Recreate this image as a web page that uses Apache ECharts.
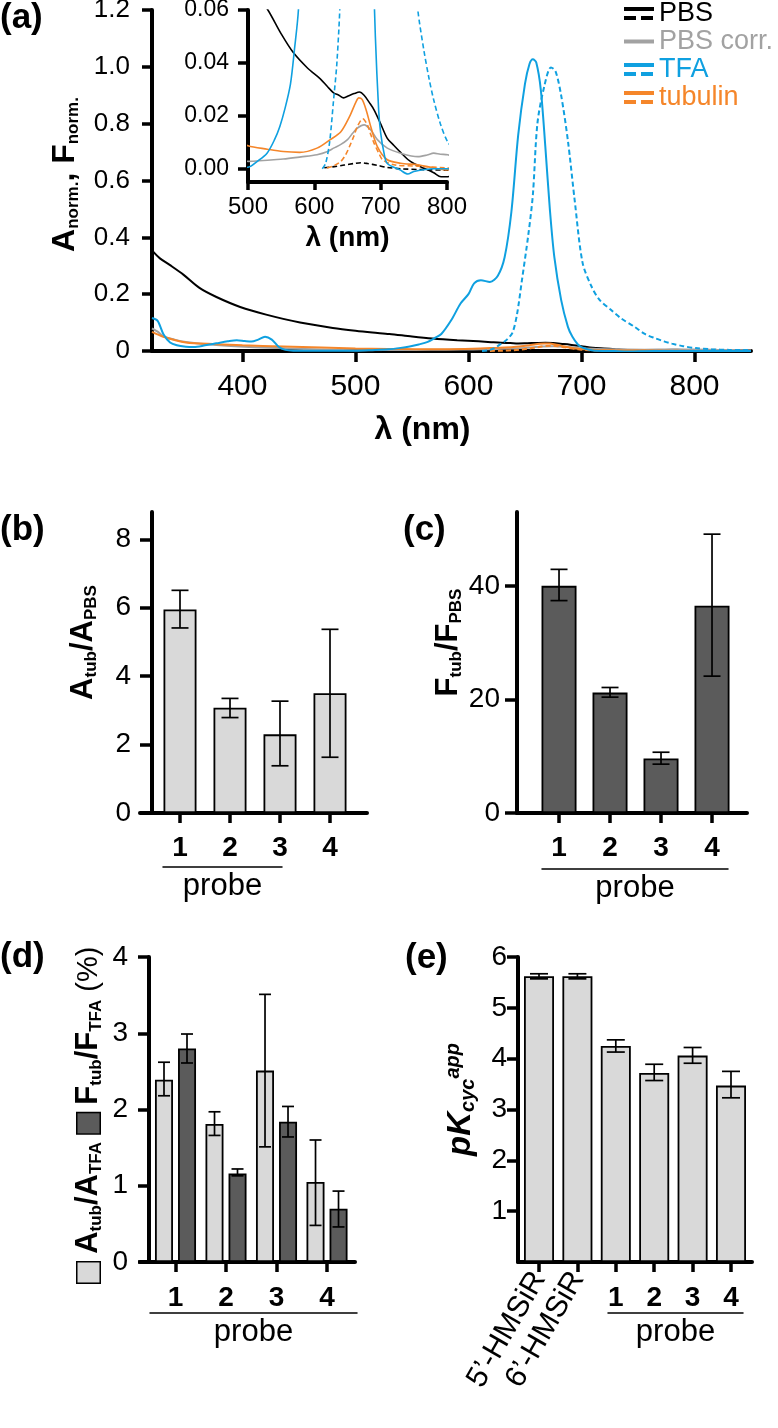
<!DOCTYPE html>
<html><head><meta charset="utf-8">
<script src="https://cdn.jsdelivr.net/npm/echarts@6/dist/echarts.min.js"></script>
<style>html,body{margin:0;padding:0;background:#fff}#c{width:778px;height:1428px}</style>
</head><body><div id="c"></div><script>
const FONT = '"Liberation Sans", Arial, Helvetica, sans-serif';
const BLACK = '#000000', GRAY = '#a2a2a2', CYAN = '#0fa0e0', ORANGE = '#f5862a';
const LIGHT = '#d9d9d9', DARK = '#5b5b5b';

// ---------- (a) spectra: [wavelength nm, normalized value] ----------
const pbsAbs = [[320,0.354],[327,0.326],[336,0.302],[348,0.268],[362,0.222],[377,0.19],[398,0.155],[421,0.128],[451,0.1],[480,0.081],[500,0.071],[515,0.065],[530,0.06],[550,0.051],[568,0.044],[590,0.038],[609,0.034],[620,0.031],[629,0.0287],[637,0.0278],[644,0.0268],[652,0.0276],[660,0.0284],[668,0.029],[675,0.0278],[683,0.025],[690,0.0223],[700,0.017],[710,0.0115],[720,0.0088],[730,0.0062],[741,0.0035],[750,0.002],[760,0.0008],[771,-0.0004],[780,-0.0015],[791,-0.003],[800,-0.003],[820,-0.002],[850,-0.002]];
const pbsFluo = [[615,0.0004],[630,0.0008],[645,0.0014],[660,0.002],[670,0.0023],[680,0.002],[695,0.0013],[710,0.0005],[730,0.0],[760,-0.0003],[800,-0.0005],[850,-0.0005]];
const pbsCorrAbs = [[320,0.08],[325,0.068],[330,0.052],[340,0.04],[350,0.032],[377,0.021],[406,0.014],[440,0.009],[470,0.005],[500,0.0028],[553,0.0037],[580,0.0045],[604,0.0053],[620,0.0065],[629,0.0078],[640,0.0092],[650,0.011],[658,0.0135],[665,0.0154],[675,0.0166],[685,0.0147],[695,0.011],[710,0.0078],[730,0.0059],[756,0.0046],[770,0.0052],[780,0.0059],[790,0.0055],[801,0.0053],[820,0.004],[850,0.003]];
const tfaAbs = [[320,0.116],[325,0.106],[330,0.06],[336,0.03],[342,0.02],[350,0.015],[357,0.014],[367,0.02],[377,0.027],[387,0.034],[395,0.038],[402,0.035],[408,0.033],[414,0.04],[420,0.05],[426,0.04],[432,0.015],[438,0.004],[445,0.001],[470,0.0005],[500,0.0006],[515,0.003],[529,0.006],[540,0.011],[548,0.016],[556,0.023],[564,0.032],[570,0.045],[576,0.06],[585,0.11],[593,0.167],[600,0.2],[605,0.238],[611,0.249],[619,0.243],[626,0.265],[632,0.33],[638,0.49],[644,0.76],[650,0.94],[654,1.01],[657,1.027],[660,1.015],[664,0.92],[668,0.72],[672,0.5],[676,0.33],[682,0.18],[688,0.085],[692,0.05],[697,0.022],[700,0.0136],[705,0.006],[710,0.002],[729,-0.0004],[741,-0.002],[750,-0.001],[780,0.0],[850,0.0]];
const tfaFluo = [[612,0.0],[617,0.002],[623,0.01],[629,0.026],[634,0.04],[639,0.065],[643,0.13],[647,0.24],[653,0.41],[657,0.55],[661,0.8],[667,0.93],[673,0.998],[677,0.985],[682,0.9],[688,0.74],[694,0.53],[701,0.31],[709,0.226],[716,0.18],[726,0.145],[735,0.115],[747,0.085],[756,0.06],[765,0.045],[773,0.034],[780,0.026],[790,0.017],[801,0.0102],[815,0.006],[830,0.004],[850,0.003]];
const tubAbs = [[320,0.067],[330,0.05],[350,0.03],[377,0.024],[400,0.02],[436,0.016],[470,0.012],[500,0.0087],[529,0.0074],[553,0.0065],[578,0.0062],[604,0.0078],[624,0.011],[640,0.014],[653,0.0197],[663,0.0254],[667,0.0268],[672,0.0262],[678,0.0223],[685,0.016],[695,0.0084],[710,0.0034],[730,0.0021],[756,0.0015],[780,0.0003],[798,-0.0004],[820,0.0],[850,0.0]];
const tubFluo = [[619,0.0003],[630,0.0012],[640,0.0028],[647,0.0052],[653,0.0084],[659,0.012],[665,0.016],[673,0.0189],[680,0.0166],[685,0.013],[690,0.0097],[697,0.006],[703,0.0034],[720,0.0015],[756,0.001],[801,0.0003],[850,0.0]];
const mainXTicks = [400,500,600,700,800];
const insetYTicks = [0,0.02,0.04,0.06];

// ---------- (b)-(e) bars ----------
const probes = [1,2,3,4];
const bVal = [5.95,3.08,2.3,3.5], bLow = [5.41,2.79,1.38,1.63], bHigh = [6.51,3.35,3.27,5.37];
const bTicks = [0,2,4,6,8];
const cVal = [40.0,21.2,9.6,36.5], cLow = [37.4,20.4,8.6,24.1], cHigh = [42.9,22.1,10.7,49.1];
const cTicks = [0,20,40];
const dLightVal = [2.39,1.81,2.51,1.05], dLightLow = [2.18,1.66,1.51,0.48], dLightHigh = [2.62,1.97,3.51,1.6];
const dDarkVal = [2.8,1.16,1.84,0.7], dDarkLow = [2.61,1.13,1.64,0.46], dDarkHigh = [2.99,1.22,2.04,0.93];
const eCats = ['5’-HMSiR','6’-HMSiR','1','2','3','4'];
const ePos = [1,2,3,4,5,6];
const eVal = [5.62,5.62,4.25,3.72,4.06,3.47], eLow = [5.57,5.57,4.13,3.57,3.91,3.23], eHigh = [5.67,5.67,4.37,3.89,4.22,3.75];
const eTicks = [1,2,3,4,5,6];

// ---------- helpers ----------
const AL = (w) => ({show:true, onZero:false, lineStyle:{color:'#000', width:w}});
const AT = (len, vals) => { const o = {show:true, length:len, lineStyle:{color:'#000', width:3.5}}; if (vals) o.customValues = vals; return o; };
const LBL = (size, margin, vals, fmt, extra) => { const o = Object.assign({show:true, hideOverlap:false, color:'#000', fontFamily:FONT, fontSize:size, margin:margin}, extra || {}); if (vals) o.customValues = vals; if (fmt) o.formatter = fmt; return o; };
const subRich = (big, small) => ({
  b:{fontSize:big, fontWeight:'bold', fontFamily:FONT, color:'#000', lineHeight:big+2},
  s:{fontSize:small, fontWeight:'bold', fontFamily:FONT, color:'#000', lineHeight:10, verticalAlign:'bottom'},
  r:{fontSize:big-2, fontWeight:'normal', fontFamily:FONT, color:'#000', lineHeight:big+2},
  sp:{fontSize:big, fontFamily:FONT, lineHeight:big+2},
  sqL:{width:20, height:22, backgroundColor:LIGHT, borderColor:'#000', borderWidth:1.5, verticalAlign:'middle'},
  sqD:{width:20, height:22, backgroundColor:DARK, borderColor:'#000', borderWidth:1.5, verticalAlign:'middle'},
  bi:{fontSize:big, fontWeight:'bold', fontStyle:'italic', fontFamily:FONT, color:'#000', lineHeight:big+2},
  si:{fontSize:small, fontWeight:'bold', fontStyle:'italic', fontFamily:FONT, color:'#000', lineHeight:10, verticalAlign:'bottom'},
  su:{fontSize:small, fontWeight:'bold', fontStyle:'italic', fontFamily:FONT, color:'#000', lineHeight:2, verticalAlign:'top'}
});

function spec(name, data, color, dashed, ax, width) {
  return {type:'line', name:name, data:data, xAxisIndex:ax, yAxisIndex:ax, showSymbol:false, symbol:'none',
    clip:true, smooth:0.3, silent:true, color:color, itemStyle:{color:color},
    lineStyle:{color:color, width:width, type: dashed ? [5,3] : 'solid'}};
}
function errRender(capW, dx) {
  return function (params, api) {
    const x = api.value(0);
    const lo = api.coord([x, api.value(1)]);
    const hi = api.coord([x, api.value(2)]);
    const cx = lo[0] + dx;
    const st = {stroke:'#000', lineWidth:1.7};
    return {type:'group', children:[
      {type:'line', shape:{x1:cx, y1:lo[1], x2:cx, y2:hi[1]}, style:st},
      {type:'line', shape:{x1:cx-capW/2, y1:lo[1], x2:cx+capW/2, y2:lo[1]}, style:st},
      {type:'line', shape:{x1:cx-capW/2, y1:hi[1], x2:cx+capW/2, y2:hi[1]}, style:st}
    ]};
  };
}
function errSeries(ax, xs, lo, hi, capW, dx) {
  return {type:'custom', xAxisIndex:ax, yAxisIndex:ax, clip:false, silent:true, z:10,
    data: xs.map((x,i)=>[x, lo[i], hi[i]]), encode:{x:0, y:[1,2]}, renderItem: errRender(capW, dx)};
}
function barSeries(ax, xs, vals, width, color, extra) {
  return Object.assign({type:'bar', xAxisIndex:ax, yAxisIndex:ax, silent:true, barWidth:width,
    data: xs.map((x,i)=>[x, vals[i]]),
    itemStyle:{color:color, borderColor:'#000', borderWidth:1.8}}, extra || {});
}
const grid = (l, t, w, h) => ({left:l, top:t, width:w, height:h, outerBoundsMode:'none', containLabel:false});
const helperX = (gi) => ({gridIndex:gi, type:'value', min:0, max:1, position:'bottom',
  axisLine:{show:true, onZero:false, lineStyle:{color:'#000', width:1.5}}, axisTick:{show:false}, axisLabel:{show:false}, splitLine:{show:false},
  name:'probe', nameLocation:'middle', nameGap:4, nameTextStyle:{fontSize:31, color:'#000', fontFamily:FONT}});
const helperY = (gi) => ({gridIndex:gi, type:'value', show:false, min:0, max:1});
const titleOf = (t, l, top) => ({text:t, left:l, top:top, padding:0, textStyle:{fontSize:35, fontWeight:'bold', color:'#000', fontFamily:FONT}});
const eAxisBase = {gridIndex:5, type:'value', min:0.453, max:6.547, position:'bottom', splitLine:{show:false}};
const eRot = {rotate:60, lineHeight:22, showMinLabel:true, showMaxLabel:true};

const ICON2 = 'path://M0,0L30,0L30,4L0,4Z M0,9L12,9L12,13L0,13Z M17,9L29,9L29,13L17,13Z';
const ICON1 = 'path://M0,0L30,0L30,4L0,4Z';

const option = {
  animation:false,
  backgroundColor:'#fff',
  textStyle:{fontFamily:FONT},
  title:[titleOf('(a)',0,1), titleOf('(b)',0,513), titleOf('(c)',403,513), titleOf('(d)',0,940), titleOf('(e)',405,941)],
  legend:{orient:'vertical', left:624, top:0, padding:0, itemWidth:30, itemHeight:14, itemGap:1, selectedMode:false,
    itemStyle:{borderWidth:0}, textStyle:{fontSize:27, fontFamily:FONT, lineHeight:26},
    data:[
      {name:'PBS', icon:ICON2, textStyle:{color:BLACK}},
      {name:'PBS corr.', icon:ICON1, textStyle:{color:GRAY}},
      {name:'TFA', icon:ICON2, textStyle:{color:CYAN}},
      {name:'tubulin', icon:ICON2, textStyle:{color:ORANGE}}
    ]},
  grid:[
    grid(152,10,599,341),   // 0 main (a)
    grid(248,10,199,172),   // 1 inset
    grid(140,512,227,301),  // 2 (b)
    grid(517,512,230,301),  // 3 (c)
    grid(140,957,215,305),  // 4 (d)
    grid(518,957,234,305),  // 5 (e)
    grid(163,866,119,1),    // 6 probe line b
    grid(542,868,186,1),    // 7 probe line c
    grid(150,1312,207,1),   // 8 probe line d
    grid(608,1312,135,1)    // 9 probe line e
  ],
  xAxis:[
    {gridIndex:0, type:'value', min:320, max:850, splitLine:{show:false}, axisLine:AL(4), axisTick:AT(11, mainXTicks),
      axisLabel:LBL(30,21,mainXTicks), name:'λ (nm)', nameLocation:'middle', nameGap:63,
      nameTextStyle:{fontSize:32, fontWeight:'bold', color:'#000', fontFamily:FONT, padding:[0,58,0,0]}},
    {gridIndex:1, type:'value', min:500, max:800, interval:100, splitLine:{show:false}, axisLine:AL(4), axisTick:AT(8),
      axisLabel:LBL(24,13), name:'λ (nm)', nameLocation:'middle', nameGap:42,
      nameTextStyle:{fontSize:28, fontWeight:'bold', color:'#000', fontFamily:FONT}},
    {gridIndex:2, type:'value', min:0.2, max:4.74, splitLine:{show:false}, axisLine:AL(4), axisTick:AT(10, probes),
      axisLabel:LBL(28,21,probes,null,{fontWeight:'bold'})},
    {gridIndex:3, type:'value', min:0.176, max:4.686, splitLine:{show:false}, axisLine:AL(4), axisTick:AT(10, probes),
      axisLabel:LBL(28,21,probes,null,{fontWeight:'bold'})},
    {gridIndex:4, type:'value', min:0.297, max:4.554, splitLine:{show:false}, axisLine:AL(4), axisTick:AT(10, probes),
      axisLabel:LBL(28,22,probes,null,{fontWeight:'bold'})},
    // (e) ticks + first rotated label
    Object.assign({}, eAxisBase, {axisLine:AL(4), axisTick:AT(10, eTicks),
      axisLabel:LBL(30,12,[1],(v)=>eCats[Math.round(v)-1],eRot)}),
    // (e) second rotated label
    Object.assign({}, eAxisBase, {axisLine:{show:false}, axisTick:{show:false},
      axisLabel:LBL(30,12,[2],(v)=>eCats[Math.round(v)-1],eRot)}),
    // (e) probe numbers
    Object.assign({}, eAxisBase, {axisLine:{show:false}, axisTick:{show:false},
      axisLabel:LBL(28,22,[3,4,5,6],(v)=>eCats[Math.round(v)-1],{fontWeight:'bold', showMinLabel:true, showMaxLabel:true})}),
    helperX(6), helperX(7), helperX(8), helperX(9)
  ],
  yAxis:[
    {gridIndex:0, type:'value', min:0, max:1.2, interval:0.2, splitLine:{show:false}, axisLine:AL(4), axisTick:AT(10),
      axisLabel:LBL(26,22,null,(v)=> Math.abs(v)<1e-9 ? '0' : v.toFixed(1)),
      name:'{b|A}{s|norm.}{b|, F}{s|norm.}', nameLocation:'middle', nameGap:70,
      nameTextStyle:{padding:[0,0,0,12], rich:subRich(32,17)}},
    {gridIndex:1, type:'value', min:-0.005, max:0.06, splitLine:{show:false}, axisLine:AL(4), axisTick:AT(10, insetYTicks),
      axisLabel:LBL(23,19,insetYTicks,(v)=>v.toFixed(2))},
    {gridIndex:2, type:'value', min:0, max:8.8, offset:-12, splitLine:{show:false}, axisLine:AL(4), axisTick:AT(12, bTicks),
      axisLabel:LBL(28,21,bTicks), name:'{b|A}{s|tub}{b|/A}{s|PBS}', nameLocation:'middle', nameGap:52,
      nameTextStyle:{padding:[0,0,0,40], rich:subRich(31,17)}},
    {gridIndex:3, type:'value', min:0, max:53, splitLine:{show:false}, axisLine:AL(4), axisTick:AT(12, cTicks),
      axisLabel:LBL(28,17,cTicks), name:'{b|F}{s|tub}{b|/F}{s|PBS}', nameLocation:'middle', nameGap:50,
      nameTextStyle:{padding:[0,0,0,40], rich:subRich(31,17)}},
    {gridIndex:4, type:'value', min:0, max:4, interval:1, offset:-9, splitLine:{show:false}, axisLine:AL(4), axisTick:AT(11),
      axisLabel:LBL(28,21), name:'{sqL|}{sp| }{b|A}{s|tub}{b|/A}{s|TFA}{sp| }{sqD|}{sp| }{b|F}{s|tub}{b|/F}{s|TFA}{r| (%)}',
      nameLocation:'middle', nameGap:44, nameTextStyle:{padding:[0,10,0,0], rich:subRich(31,17)}},
    {gridIndex:5, type:'value', min:0, max:6, splitLine:{show:false}, axisLine:AL(4), axisTick:AT(11, eTicks),
      axisLabel:LBL(28,11,eTicks), name:'{bi|pK}{si|cyc}{su|app}', nameLocation:'middle', nameGap:40,
      nameTextStyle:{padding:[0,0,0,20], rich:subRich(33,20)}},
    helperY(6), helperY(7), helperY(8), helperY(9)
  ],
  series:[]
};

// (a) main + inset spectra
[[0,2],[1,1.6]].forEach(([ax,w]) => {
  option.series.push(
    spec('PBS', pbsAbs, BLACK, false, ax, w),
    spec('PBS', pbsFluo, BLACK, true, ax, w),
    spec('PBS corr.', pbsCorrAbs, GRAY, false, ax, w),
    spec('tubulin', tubAbs, ORANGE, false, ax, w),
    spec('tubulin', tubFluo, ORANGE, true, ax, w),
    spec('TFA', tfaAbs, CYAN, false, ax, w),
    spec('TFA', tfaFluo, CYAN, true, ax, w)
  );
});
// (b)
option.series.push(barSeries(2, probes, bVal, 33, LIGHT), errSeries(2, probes, bLow, bHigh, 17, 0));
// (c)
option.series.push(barSeries(3, probes, cVal, 35, DARK), errSeries(3, probes, cLow, cHigh, 17, 0));
// (d)
option.series.push(
  barSeries(4, probes, dLightVal, 18, LIGHT, {barGap:'28%'}),
  barSeries(4, probes, dDarkVal, 18, DARK, {barGap:'28%'}),
  errSeries(4, probes, dLightLow, dLightHigh, 12, -11.5),
  errSeries(4, probes, dDarkLow, dDarkHigh, 12, 11.5)
);
// (e)
option.series.push(barSeries(5, ePos, eVal, 30, LIGHT), errSeries(5, ePos, eLow, eHigh, 18, 0));

const chart = echarts.init(document.getElementById('c'), null, {renderer:'canvas'});
chart.setOption(option);
</script></body></html>
